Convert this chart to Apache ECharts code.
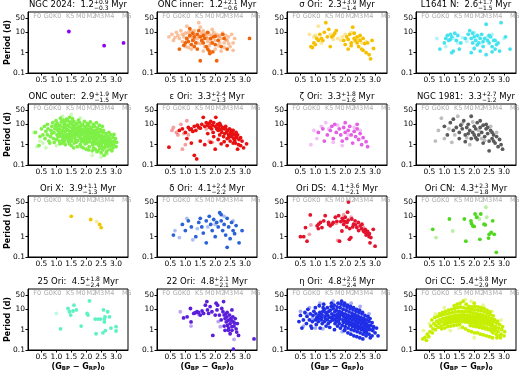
<!DOCTYPE html>
<html>
<head>
<meta charset="utf-8">
<script src="https://cdn.jsdelivr.net/npm/echarts@6/dist/echarts.min.js"></script>
<style>
html,body{margin:0;padding:0;background:#fff}
#chart{width:520px;height:374px}
</style>
</head>
<body>
<div id="chart"></div>
<script>
// panels in reading order
var regionNames = ['NGC 2024','ONC inner','σ Ori','L1641 N','ONC outer','ε Ori','ζ Ori','NGC 1981','Ori X','δ Ori','Ori DS','Ori CN','25 Ori','22 Ori','η Ori','Ori CC'];
var ages = ['1.2','1.2','2.3','2.6','2.9','3.3','3.3','3.3','3.9','4.1','4.1','4.3','4.5','4.8','4.8','5.4'];
var agePlus = ['+0.9','+2.1','+3.9','+1.7','+1.9','+2.4','+1.8','+2.7','+1.1','+2.4','+3.6','+2.3','+1.8','+2.1','+2.6','+5.8'];
var ageMinus = ['−0.3','−0.6','−1.4','−1.5','−1.5','−1.3','−1.6','−1.2','−1.3','−2.2','−2.1','−1.8','−2.4','−2.1','−2.4','−2.9'];
var regionColors = ['#8a00f0','#f0650a','#f5c000','#45e3f0','#7ef046','#e81010','#e45ee6','#5b5b5b',
                    '#f0c800','#2a62d8','#e3132e','#4fd81e','#5cf2c3','#5b1fdc','#1f2fe6','#c6ee00'];
var spTypes = ['F0','G0','K0','K5','M0','M2','M3','M4','M5'];
var spColors = [0.36,0.73,1.03,1.46,1.82,2.17,2.44,2.78,3.36];
var xTicks = [0.5,1,1.5,2,2.5,3];
var yTicks = [0.1,1,10,50];

// [colour (BP-RP)0, period d]
var ngc2024Main = [[1.42,11],[2.6,2.2],[3.25,3.0]];
var ngc2024Faint = [];

var oncInMain = [[0.95,2.3],[1.05,5],[1.1,3.5],[1.15,15],[1.2,2.5],[1.25,4],[1.3,6],[1.35,3],[1.4,8],[1.45,12],[1.5,6],[1.55,4],[1.6,7],[1.65,5],[1.7,2],[1.75,10],[1.8,1.2],[1.82,0.9],[1.85,5],[1.9,3],[1.95,6],[2.0,2.5],[2.05,0.4],[2.1,4],[2.2,2],[2.3,5],[2.4,1.5],[1.5,0.4],[0.8,1.5],[1.0,3],[1.3,2],[1.6,3],[1.75,1.5],[2.25,8],[3.15,5],[1.15,7],[1.4,1.5],[1.92,1.1],[2.0,6.5],[1.25,9]];
var oncInFaint = [[0.45,6],[0.55,8],[0.6,4],[0.7,10],[0.75,7],[0.8,5],[0.85,12],[0.9,8],[0.95,6],[1.0,9],[1.05,20],[1.1,10],[1.15,6],[1.2,11],[1.25,5],[1.3,12],[1.35,8],[1.4,5],[1.45,30],[1.5,18],[1.55,9],[1.6,12],[1.65,8],[1.7,6],[1.75,5],[1.8,8],[1.85,3],[1.9,7],[1.95,10],[2.0,4],[2.05,8],[2.1,6],[2.15,3],[2.2,5],[2.25,9],[2.3,3],[2.35,7],[2.4,4],[2.45,6],[2.5,2],[2.55,8],[2.6,3],[2.65,5],[1.0,2],[1.2,1.5],[1.4,3],[1.6,1.2],[1.8,2.2],[2.0,1.5],[2.2,1.2],[1.3,4.5],[1.5,2.8],[1.7,9],[0.9,3.5],[1.1,1.8],[1.55,6],[1.85,4.5],[2.1,2.2],[2.3,1.8],[1.65,2],[2.45,2.8],[2.6,1.3],[0.65,5.5],[1.9,14],[1.45,6.5],[1.25,7.5],[2.15,7],[2.35,4.5],[1.75,3.5],[1.05,4.2]];

var sigOriMain = [[0.85,2],[0.9,1.8],[0.95,3],[1.0,2.5],[1.05,5],[1.1,4],[1.15,8],[1.2,5],[1.3,10],[1.35,30],[1.4,6],[1.5,2],[1.55,6],[1.6,7],[1.65,9],[1.7,12],[1.95,4],[2.0,2.5],[2.05,6],[2.1,1.5],[2.15,8],[2.2,3],[2.25,18],[2.3,5],[2.35,4],[2.4,3],[2.45,2],[2.5,7],[2.55,1.5],[2.6,5],[2.65,2.8],[2.7,1],[2.75,3],[2.8,0.8],[2.85,0.5],[2.9,4],[2.95,1.6],[2.4,6],[2.3,9],[1.25,4],[1.45,14],[2.1,4.5],[2.2,2.2],[2.5,4],[2.6,1.3]];
var sigOriFaint = [[0.8,8],[0.95,6],[1.1,20],[1.2,3],[1.5,8],[1.75,5],[1.85,4],[2.0,8],[2.3,3.5],[2.45,5],[2.7,3.5],[1.6,4.5],[1.9,6],[2.2,10],[2.55,3],[1.0,7]];

var l1641Main = [[0.85,1.5],[1.0,3],[1.05,5],[1.1,7],[1.15,4],[1.2,8],[1.25,6],[1.3,1.2],[1.35,9],[1.4,4],[1.45,7],[1.5,1.5],[1.55,3],[1.8,8],[1.85,12],[1.9,5],[1.95,9],[2.0,6],[2.05,4],[2.1,7],[2.15,3],[2.2,5],[2.25,8],[2.3,2],[2.35,5],[2.4,25],[2.45,4],[2.5,3],[2.55,6],[2.6,2],[2.65,4],[2.7,1.5],[2.75,2.5],[2.8,3],[2.9,30],[3.05,6],[3.2,1.5],[1.9,1],[2.0,1.6],[2.2,1.2],[2.4,0.8],[2.6,1.1],[1.25,1],[2.3,3.5],[2.1,2.4],[1.7,5],[1.2,4.5],[2.5,7],[2.7,4],[1.95,3],[2.85,1.2]];
var l1641Faint = [[0.75,5],[1.05,2],[1.3,5],[1.6,5.5],[1.75,3.5],[2.0,10],[2.25,3],[2.45,6],[2.6,8],[3.0,5],[1.45,3],[2.15,6]];

var oncOutMain = [[0.3,4],[0.42,0.9],[0.45,2.5],[0.55,3],[0.5,6],[0.62,2],[0.65,4.5],[0.6,8],[0.7,3],[0.72,6],[0.75,1.5],[0.7,10],
  [0.8,2.5],[0.82,5],[0.85,8],[0.78,1.2],[0.85,3.5],[0.9,2],[0.92,4],[0.95,6],[0.88,12],[0.93,1.3],[0.97,9],
  [1.0,1.8],[1.02,3],[1.05,5],[1.0,7],[1.03,11],[1.06,2.4],[0.99,15],[1.1,1.5],[1.12,2.8],[1.15,4],[1.1,6],[1.13,8.5],[1.16,13],[1.08,3.5],[1.14,20],
  [1.2,1.2],[1.22,2.2],[1.25,3.2],[1.2,5],[1.23,7],[1.26,10],[1.18,4.2],[1.24,16],[1.21,1.7],
  [1.3,1],[1.32,2],[1.35,3],[1.3,4.5],[1.33,6],[1.36,9],[1.28,12],[1.34,18],[1.31,2.6],[1.37,5.2],
  [1.4,1.4],[1.42,2.4],[1.45,3.6],[1.4,5],[1.43,7.5],[1.46,11],[1.38,15],[1.44,22],[1.41,1.8],[1.47,4.2],
  [1.5,0.9],[1.52,2],[1.55,3],[1.5,4.5],[1.53,6.5],[1.56,9],[1.48,13],[1.54,19],[1.51,1.5],[1.57,5.5],[1.49,2.7],
  [1.6,1.2],[1.62,2.3],[1.65,3.4],[1.6,5],[1.63,7],[1.66,10],[1.58,14],[1.64,1.7],[1.61,4],[1.67,6],
  [1.7,0.8],[1.72,1.6],[1.75,2.6],[1.7,4],[1.73,5.5],[1.76,8],[1.68,11],[1.74,16],[1.71,3.2],[1.77,6.8],
  [1.8,1],[1.82,2],[1.85,3],[1.8,4.5],[1.83,6],[1.86,9],[1.78,12],[1.84,1.4],[1.81,3.7],[1.87,5.2],
  [1.9,0.7],[1.92,1.5],[1.95,2.4],[1.9,3.5],[1.93,5],[1.96,7],[1.88,10],[1.94,14],[1.91,2],[1.97,4.2],
  [2.0,0.6],[2.02,1.2],[2.05,2],[2.0,3],[2.03,4.2],[2.06,6],[1.98,8],[2.04,11],[2.01,1.6],[2.07,5],[1.99,2.5],
  [2.1,0.8],[2.12,1.4],[2.15,2.2],[2.1,3.2],[2.13,4.5],[2.16,6.5],[2.08,9],[2.14,13],[2.11,1.8],[2.17,3.8],
  [2.2,0.5],[2.22,1],[2.25,1.7],[2.2,2.6],[2.23,3.6],[2.26,5],[2.18,7],[2.24,10],[2.21,1.3],[2.27,4.2],[2.19,2.1],
  [2.3,0.6],[2.32,1.1],[2.35,1.8],[2.3,2.8],[2.33,4],[2.36,5.5],[2.28,8],[2.34,12],[2.31,1.4],[2.37,3.3],
  [2.4,0.5],[2.42,0.9],[2.45,1.5],[2.4,2.3],[2.43,3.2],[2.46,4.5],[2.38,6.5],[2.44,9],[2.41,1.2],[2.47,2.7],
  [2.5,0.4],[2.52,0.8],[2.55,1.3],[2.5,2],[2.53,2.8],[2.56,4],[2.48,5.5],[2.54,8],[2.51,1],[2.57,1.7],
  [2.6,0.3],[2.62,0.7],[2.65,1.1],[2.6,1.7],[2.63,2.5],[2.66,3.5],[2.58,5],[2.64,0.9],[2.61,1.4],
  [2.7,0.5],[2.72,0.8],[2.75,1.2],[2.7,1.8],[2.73,2.6],[2.76,4],[2.68,1],[2.8,0.6],[2.82,0.9],[2.85,1.4],[2.8,2],[2.83,3],[2.78,1.1],
  [2.9,0.7],[2.92,1],[2.95,1.5],[2.9,2.2],[2.93,3.2],[3.0,0.8],[3.02,1.3],[2.98,2],
  [1.05,9],[1.18,2.6],[1.28,7.5],[1.39,3],[1.52,11],[1.62,3],[1.69,6.2],[1.79,2.4],[1.89,4.6],[1.99,5.5],[2.09,2.6],[2.19,4.6],[2.29,2.2],[2.39,3.8],[2.49,1.5],[2.59,2.1],[2.69,1.4],[2.79,1.6],[2.89,1.2],
  [1.12,1.1],[1.27,1.5],[1.44,1.1],[1.58,0.7],[1.66,1.3],[1.83,0.8],[1.96,1.1],[2.08,0.55],[2.24,0.7],[2.36,0.45],[2.46,0.65],[2.56,0.55],[2.67,0.4],[2.86,0.5]];
var oncOutFaint = [[0.35,0.8],[0.25,4],[0.45,1.5],[0.55,1.2],[0.65,0.7],[1.0,0.9],[1.2,25],[1.5,30],[1.8,20],[2.2,0.3],[2.5,0.25],[2.7,0.35]];

var epsOriMain = [[0.45,0.75],[0.8,5],[0.9,6],[1.0,4],[1.05,2],[1.1,7],[1.15,5.5],[1.2,6],[1.25,4.5],[1.3,8],[1.35,5],[1.4,9],[1.45,7],[1.5,6.5],[1.55,10],[1.6,22],[1.65,8],[1.7,12],[1.75,9],[1.8,11],[1.82,7],[1.85,14],[1.88,6],[1.9,9],[1.93,4],[1.95,12],[2.0,8],[2.02,22],[2.05,6],[2.08,10],[2.1,5],[2.12,7],[2.15,3],[2.18,9],[2.2,5.5],[2.22,4],[2.25,7],[2.28,2.5],[2.3,6],[2.32,3.5],[2.35,8],[2.38,4],[2.4,2],[2.42,5],[2.45,3],[2.48,6],[2.5,1.5],[2.52,4],[2.55,2.5],[2.58,3.5],[2.6,5],[2.62,2],[2.65,3],[2.68,1.2],[2.7,4],[2.72,2.2],[2.75,3],[2.78,1],[2.8,1.8],[2.85,0.9],[2.9,1.5],[2.95,0.7],[3.05,1.1],[1.2,1.2],[1.3,0.3],[1.38,0.2],[1.5,1.5],[1.65,1],[1.85,1.3],[2.0,0.6],[2.2,1.1],[2.4,0.9],[2.5,3],[2.6,1.2],[2.75,0.6],[1.95,2.5],[2.1,1.8],[2.3,1.4],[2.45,2.2],[2.65,1.6],[1.75,3.5],[2.15,11],[2.35,6],[2.55,5],[2.7,2.8],[2.85,2.2]];
var epsOriFaint = [[0.55,5],[0.6,7],[0.7,4],[0.75,3],[0.85,10],[0.9,0.6],[0.95,3.5],[1.05,15],[1.1,3],[1.0,1],[1.8,1.5],[1.9,1.3],[1.7,6]];

var zetOriMain = [[1.1,4],[1.25,6],[1.4,3],[1.5,5],[1.55,8],[1.6,2],[1.65,10],[1.7,4],[1.8,6],[1.85,3],[1.9,1.5],[1.95,7],[2.0,4],[2.05,2],[2.1,5],[2.15,8],[2.2,3],[2.25,1.2],[2.3,4.5],[2.35,2.5],[2.4,6],[2.45,1.8],[2.5,3.5],[2.55,1],[2.6,2.2],[2.7,1.4],[2.75,0.8],[2.4,10],[2.0,12],[1.3,1.5]];
var zetOriFaint = [[0.85,1],[0.95,5],[1.05,2],[1.2,8],[1.35,12],[1.45,6],[1.75,9],[2.1,3],[2.3,7],[1.6,1.3],[2.5,5],[1.9,0.9]];

var ngc1981Main = [[1.0,8],[1.1,3],[1.2,12],[1.3,5],[1.4,7],[1.5,4],[1.55,9],[1.6,6],[1.65,15],[1.7,3],[1.75,7],[1.8,10],[1.85,5],[1.9,25],[1.95,4],[2.0,8],[2.05,6],[2.1,12],[2.15,3],[2.2,7],[2.25,4],[2.3,9],[2.35,2.5],[2.4,6],[2.45,3.5],[2.5,1.5],[2.55,5],[2.6,2],[2.65,3],[2.7,1.2],[2.75,2.5],[2.8,0.8],[2.85,1.8],[2.9,1],[2.95,0.6],[2.3,1.2],[2.1,1.8],[1.9,2],[1.7,1.4],[2.5,0.5],[2.0,3],[2.2,15],[2.4,10],[2.6,4],[1.5,2],[1.3,18],[1.8,3.5],[2.45,7],[2.65,1.5],[2.05,2.2]];
var ngc1981Faint = [[0.7,1.5],[0.8,5],[0.9,20],[1.0,2],[1.15,6],[1.25,1.3],[1.45,25],[1.6,11],[1.75,2.2],[1.95,13],[2.15,5],[2.35,1.6],[2.55,8],[2.75,4],[1.35,3],[1.85,1],[2.25,2]];

var oriXMain = [[1.5,10],[2.15,7],[2.45,4],[2.5,2.8]];
var oriXFaint = [[2.35,5.5]];

var delOriMain = [[0.6,1.2],[0.9,4],[1.0,2],[1.1,6],[1.2,3],[1.35,1],[1.45,5],[1.5,8],[1.55,3],[1.6,1.5],[1.7,6],[1.8,10],[1.85,4],[1.9,2],[1.95,7],[2.0,1],[2.05,5],[2.1,3],[2.15,15],[2.2,6],[2.25,2],[2.3,4],[2.35,1.2],[2.4,8],[2.45,3],[2.5,0.8],[2.55,5],[2.6,2],[2.65,1.4],[2.7,3.5],[2.8,0.5],[2.9,2],[1.7,0.5],[2.4,0.3],[2.2,12]];
var delOriFaint = [[0.65,2],[0.8,0.9],[1.05,8],[1.25,0.7],[1.4,2.5],[1.75,3],[2.0,4],[2.3,10],[2.6,6]];

var oriDSMain = [[0.5,1],[0.61,1],[0.67,2.8],[0.72,0.6],[0.83,11.7],[1.11,4.1],[1.17,5],[1.22,2.8],[1.06,3.4],[1.28,6],[1.33,10.8],[1.44,5],[1.5,3.4],[1.56,4.1],[1.67,9],[1.72,5.6],[1.78,10.8],[1.81,0.6],[1.89,1.9],[1.94,6],[2.0,9],[2.06,5],[2.08,16],[2.11,50],[2.14,0.74],[2.19,0.9],[2.22,7.4],[2.28,4.1],[2.33,6],[2.39,2.8],[2.44,5],[2.5,3.4],[2.56,4.1],[2.61,1.9],[2.67,2.3],[2.72,1.6],[2.76,1.3],[2.81,1.4],[2.86,0.9],[2.94,2.3],[3.0,0.34],[2.83,0.5],[1.95,4],[2.05,3],[2.1,6.5],[2.15,2.5],[2.25,3],[2.35,3.8],[2.45,2],[2.55,2.5],[2.65,1.7],[2.7,1.2],[2.75,1.8],[2.8,1],[1.85,5.5],[1.9,8],[2.0,5.5],[1.6,5],[1.45,4],[1.1,2.5]];
var oriDSFaint = [[0.85,3.8],[0.8,1.3],[1.75,0.65],[1.7,4.5],[1.95,12],[2.2,9],[2.6,3]];

var oriCNMain = [[0.61,2.3],[1.17,7.4],[1.67,7.4],[1.72,0.6],[1.89,6],[1.91,4.5],[1.95,3.4],[2.0,3.2],[2.03,13],[2.08,9],[2.22,13],[2.19,0.74],[2.33,4.1],[2.37,3.8],[2.5,1.3],[2.57,1.6],[2.67,1.3],[2.62,6],[2.48,0.85],[2.74,0.17]];
var oriCNFaint = [[0.72,0.9],[1.28,1.9],[2.11,9.5],[2.17,7.4],[2.39,28],[2.42,9]];

var ori25Main = [[1.14,1.1],[1.39,11],[1.44,7.6],[1.48,5.2],[1.56,8.3],[1.59,16],[1.67,9.3],[1.83,1.5],[2.03,6.3],[2.06,5.2],[2.11,26],[2.3,3.3],[2.33,0.63],[2.48,3.3],[2.56,0.7],[2.58,9.3],[2.61,3.3],[2.61,2.4],[2.63,4.3],[2.64,0.9],[2.72,7.6],[2.78,4.3],[2.83,1.2],[3.0,1.4],[3.0,0.86],[2.39,3.3]];
var ori25Faint = [[1.0,6.3]];

var ori22Main = [[0.94,3.8],[1.06,4.3],[1.19,2.4],[1.17,11],[1.28,6.3],[1.33,6.8],[1.39,7.6],[1.44,7],[1.5,5.2],[1.56,8.3],[1.61,6.3],[1.67,16],[1.72,24],[1.74,9.3],[1.78,6.3],[1.83,13.6],[1.89,7.6],[1.92,0.52],[2.0,5.2],[2.03,20],[2.08,16],[2.06,9.3],[2.14,5.2],[2.22,11],[2.26,7.6],[2.3,5.2],[2.33,3.5],[2.37,2.4],[2.39,4.3],[2.41,1.6],[2.44,2.9],[2.48,5.2],[2.5,2],[2.52,3.5],[2.56,1.4],[2.56,0.93],[2.59,4.3],[2.61,2.4],[2.63,1.5],[2.67,3.5],[2.7,1.1],[2.72,0.76],[2.74,2],[2.78,0.52],[2.61,0.11],[3.3,0.35],[2.5,0.63],[2.33,0.93],[2.44,0.93],[2.56,9.3],[2.28,24],[2.35,6],[2.45,1.2],[2.55,2.8],[2.65,2.1],[2.4,7],[2.3,1.5],[2.2,3]];
var ori22Faint = [[0.83,7.6],[1.19,1.5],[2.17,1.4],[2.63,0.33],[1.45,5.5],[2.1,2.5]];

var etaOriMain = [[0.45,2.5],[0.5,5],[0.55,1.2],[0.6,3],[0.65,7],[0.7,2],[0.72,4.5],[0.75,10],[0.8,3],[0.83,6],[0.85,1.5],[0.9,2.5],[0.92,5],[0.95,8],[0.88,1.2],
  [1.0,3],[1.02,6],[1.05,4],[1.0,12],[1.03,1.8],[1.1,2.5],[1.12,5],[1.15,7],[1.1,3.5],[1.13,15],[1.16,1.2],
  [1.2,3],[1.22,5.5],[1.25,8],[1.2,4],[1.23,2],[1.26,12],[1.3,2.5],[1.32,4.5],[1.35,7],[1.3,10],[1.33,3.5],[1.36,1.5],[1.28,18],
  [1.4,3],[1.42,5],[1.45,8],[1.4,12],[1.43,2],[1.46,4],[1.38,6],[1.5,2.5],[1.52,4],[1.55,6],[1.5,9],[1.53,14],[1.56,3],[1.48,1.3],[1.54,20],
  [1.6,3],[1.62,5],[1.65,7.5],[1.6,11],[1.63,16],[1.66,2],[1.58,4],[1.64,1],
  [1.7,2.5],[1.72,4],[1.75,6],[1.7,9],[1.73,13],[1.76,20],[1.68,3.3],[1.74,1.5],[1.71,5],
  [1.8,2],[1.82,3.5],[1.85,5.5],[1.8,8],[1.83,12],[1.86,18],[1.78,2.8],[1.84,1.2],[1.81,4.5],[1.87,7],
  [1.9,1.6],[1.92,3],[1.95,4.5],[1.9,6.5],[1.93,10],[1.96,15],[1.88,25],[1.94,2.3],[1.91,5.5],[1.97,0.9],
  [2.0,1.4],[2.02,2.5],[2.05,4],[2.0,6],[2.03,9],[2.06,13],[1.98,20],[2.04,2],[2.01,3.3],[2.07,5],[1.99,1],
  [2.1,1.2],[2.12,2.2],[2.15,3.5],[2.1,5],[2.13,7.5],[2.16,11],[2.08,16],[2.14,1.7],[2.11,2.8],[2.17,4.3],[2.09,0.7],
  [2.2,1],[2.22,1.8],[2.25,3],[2.2,4.5],[2.23,6.5],[2.26,9.5],[2.18,14],[2.24,1.4],[2.21,2.4],[2.27,3.8],[2.19,0.6],[2.25,5.5],
  [2.3,0.9],[2.32,1.6],[2.35,2.6],[2.3,3.8],[2.33,5.5],[2.36,8],[2.28,12],[2.34,1.2],[2.31,2],[2.37,3.2],[2.29,0.5],[2.35,4.6],
  [2.4,0.8],[2.42,1.4],[2.45,2.2],[2.4,3.3],[2.43,4.8],[2.46,7],[2.38,10],[2.44,1.1],[2.41,1.8],[2.47,2.8],[2.39,0.45],[2.45,4],
  [2.5,0.7],[2.52,1.2],[2.55,1.9],[2.5,2.8],[2.53,4],[2.56,6],[2.48,9],[2.54,1],[2.51,1.5],[2.57,2.4],[2.49,0.4],[2.55,3.4],
  [2.6,0.6],[2.62,1],[2.65,1.6],[2.6,2.4],[2.63,3.5],[2.66,5],[2.58,7],[2.64,0.8],[2.61,1.3],[2.67,2],[2.59,0.35],[2.65,2.9],
  [2.7,0.5],[2.72,0.9],[2.75,1.4],[2.7,2.1],[2.73,3],[2.76,4.5],[2.68,1.1],[2.74,1.7],[2.71,0.7],
  [2.8,0.6],[2.82,1],[2.85,1.6],[2.8,2.5],[2.83,3.5],[2.78,1.3],[2.84,0.4],[2.9,0.5],[2.92,0.9],[2.95,1.4],[2.9,2.2],[2.93,1.1],[3.0,0.7],[3.05,1.2],[3.1,0.5]];
var etaOriFaint = [[0.5,8],[0.6,1.5],[0.7,6],[0.8,12],[0.9,3.5],[1.0,1.2],[1.15,20],[1.35,5],[1.6,25],[1.9,0.8],[2.2,20],[2.5,14],[2.8,6],[1.25,1.1]];

var oriCCMain = [[0.28,0.35],[0.35,0.42],[0.4,0.3],[0.43,0.6],[0.48,0.45],[0.52,0.8],[0.55,1.5],[0.6,0.7],[0.62,1.1],[0.65,2],[0.58,3],[0.7,1],[0.72,1.6],[0.75,2.6],[0.68,4],
  [0.8,1.3],[0.82,2],[0.85,3],[0.78,4.5],[0.84,6],[0.9,1.5],[0.92,2.4],[0.95,3.5],[0.88,5],[0.94,7],[0.91,1.1],
  [1.0,1.8],[1.02,2.7],[1.05,3.8],[0.98,5.5],[1.04,8],[1.01,1.2],[1.06,2.2],[1.1,2],[1.12,3],[1.15,4.2],[1.08,6],[1.14,9],[1.11,1.4],[1.16,2.5],[1.09,3.5],
  [1.2,2.2],[1.22,3.2],[1.25,4.5],[1.18,6.5],[1.24,10],[1.21,1.5],[1.26,2.8],[1.19,3.8],
  [1.3,2.4],[1.32,3.5],[1.35,5],[1.28,7],[1.34,11],[1.31,1.6],[1.36,3],[1.29,4],[1.33,15],
  [1.4,2.5],[1.42,3.6],[1.45,5.2],[1.38,7.5],[1.44,12],[1.41,1.7],[1.46,3.2],[1.39,4.3],[1.43,18],
  [1.5,2.6],[1.52,3.8],[1.55,5.5],[1.48,8],[1.54,13],[1.51,1.8],[1.56,3.3],[1.49,4.5],[1.53,20],
  [1.6,2.5],[1.62,3.8],[1.65,5.5],[1.58,8],[1.64,12],[1.61,1.3],[1.66,3.2],[1.59,4.6],[1.63,25],
  [1.7,2.4],[1.72,3.6],[1.75,5.2],[1.68,7.8],[1.74,11],[1.71,1.1],[1.76,3],[1.69,4.3],[1.73,18],
  [1.8,2.3],[1.82,3.4],[1.85,5],[1.78,7.5],[1.84,10],[1.81,0.9],[1.86,2.8],[1.79,4.1],[1.83,14],[1.87,1.6],
  [1.9,2.2],[1.92,3.3],[1.95,4.8],[1.88,7],[1.94,10],[1.91,0.8],[1.96,2.7],[1.89,4],[1.93,13],[1.97,1.5],
  [2.0,2],[2.02,3.1],[2.05,4.5],[1.98,6.6],[2.04,9.5],[2.01,0.7],[2.06,2.5],[1.99,3.7],[2.03,14],[2.07,1.4],[2.0,20],
  [2.1,1.9],[2.12,2.9],[2.15,4.2],[2.08,6.2],[2.14,9],[2.11,0.7],[2.16,2.4],[2.09,3.5],[2.13,13],[2.17,1.3],[2.1,5.2],
  [2.2,1.7],[2.22,2.7],[2.25,3.9],[2.18,5.8],[2.24,8.5],[2.21,0.6],[2.26,2.2],[2.19,3.3],[2.23,12],[2.27,1.2],[2.2,4.8],
  [2.3,1.5],[2.32,2.5],[2.35,3.6],[2.28,5.3],[2.34,7.5],[2.31,0.55],[2.36,2],[2.29,3],[2.33,11],[2.37,1.1],[2.3,4.3],
  [2.4,1.3],[2.42,2.2],[2.45,3.2],[2.38,4.8],[2.44,6.5],[2.41,0.5],[2.46,1.8],[2.39,2.7],[2.43,9],[2.47,1],[2.4,3.8],
  [2.5,1.1],[2.52,1.9],[2.55,2.8],[2.48,4.2],[2.54,5.5],[2.51,0.45],[2.56,1.5],[2.49,2.4],[2.53,7.5],[2.57,0.85],
  [2.6,1],[2.62,1.6],[2.65,2.4],[2.58,3.6],[2.64,4.8],[2.61,0.4],[2.66,1.3],[2.59,2],[2.63,0.7],
  [2.7,0.9],[2.72,1.4],[2.75,2.1],[2.68,3.1],[2.74,0.6],[2.71,1.15],[2.76,0.4],[2.8,0.8],[2.82,1.2],[2.85,1.8],[2.78,2.6],[2.84,0.5],
  [2.9,0.6],[2.92,1],[2.95,1.4],[2.88,0.4],[3.0,0.5],[3.02,0.8]];
var oriCCFaint = [[0.3,0.9],[0.5,2],[0.7,6],[1.0,12],[1.2,0.9],[1.5,1.2],[1.7,30],[2.0,0.4],[2.3,16],[2.6,8],[2.9,3],[1.9,25]];

var mainSets = [ngc2024Main,oncInMain,sigOriMain,l1641Main,oncOutMain,epsOriMain,zetOriMain,ngc1981Main,
                oriXMain,delOriMain,oriDSMain,oriCNMain,ori25Main,ori22Main,etaOriMain,oriCCMain];
var faintSets = [ngc2024Faint,oncInFaint,sigOriFaint,l1641Faint,oncOutFaint,epsOriFaint,zetOriFaint,ngc1981Faint,
                 oriXFaint,delOriFaint,oriDSFaint,oriCNFaint,ori25Faint,ori22Faint,etaOriFaint,oriCCFaint];

var FONT = '"DejaVu Sans", sans-serif';
var colLeft = [28,157,287,416];
var rowTop = [12,104,196,289];
var plotW = 100, plotH = 61;

var cv = document.createElement('canvas').getContext('2d');
function textW(t, size, weight) {
    cv.font = (weight || 'normal') + ' ' + size + 'px "DejaVu Sans"';
    return cv.measureText(t).width;
}
// groups laid out left to right; texts inside one group share x (stacked sup/sub)
function textRow(groups, cx, cy, weight) {
    var widths = groups.map(function (g) {
        return Math.max.apply(null, g.map(function (p) { return textW(p[0], p[1], weight); }));
    });
    var total = widths.reduce(function (a, b) { return a + b; }, 0);
    var x = cx - total / 2, els = [];
    groups.forEach(function (g, k) {
        g.forEach(function (p) {
            els.push({type:'text', x:x, y:cy + p[2], silent:true,
                style:{text:p[0], fontSize:p[1], fontFamily:FONT, fontWeight:weight || 'normal', fill:'#000',
                       textAlign:'left', align:'left', textVerticalAlign:'middle', verticalAlign:'middle'}});
        });
        x += widths[k];
    });
    return els;
}

var grids = [], xAxes = [], yAxes = [], series = [], graphics = [];
for (var i = 0; i < 16; i++) {
    var r = Math.floor(i / 4), c = i % 4;
    grids.push({left:colLeft[c], top:rowTop[r], width:plotW, height:plotH, show:true,
                borderColor:'#000', borderWidth:1, backgroundColor:'rgba(0,0,0,0)'});
    xAxes.push({type:'value', gridIndex:i, min:0.05, max:3.4,
        axisLine:{show:true, onZero:false, lineStyle:{color:'#000', width:1}},
        axisTick:{show:true, length:2.5, customValues:xTicks, lineStyle:{color:'#000'}},
        axisLabel:{show:true, customValues:xTicks, margin:3, fontSize:7.5, color:'#000', fontFamily:FONT,
                   formatter:function (v) { return v.toFixed(1); }},
        splitLine:{show:false}});
    yAxes.push({type:'log', logBase:10, gridIndex:i, min:0.1, max:100,
        axisLine:{show:true, onZero:false, lineStyle:{color:'#000', width:1}},
        axisTick:{show:true, length:2.5, customValues:yTicks, lineStyle:{color:'#000'}},
        axisLabel:{show:true, customValues:yTicks, margin:3, fontSize:7.5, color:'#000', fontFamily:FONT,
                   formatter:function (v) { return String(+v.toPrecision(3)); }},
        minorTick:{show:false}, splitLine:{show:false}});
    series.push({type:'scatter', xAxisIndex:i, yAxisIndex:i, data:faintSets[i], symbolSize:3.8,
                 itemStyle:{color:regionColors[i], opacity:0.4}, silent:true, animation:false});
    series.push({type:'scatter', xAxisIndex:i, yAxisIndex:i, data:mainSets[i], symbolSize:3.8,
                 itemStyle:{color:regionColors[i], opacity:1}, silent:true, animation:false});
    series.push({type:'scatter', xAxisIndex:i, yAxisIndex:i, symbolSize:0, silent:true, animation:false, clip:false,
                 data:spColors.map(function (v, k) { return {name:spTypes[k], value:[v, 64]}; }),
                 label:{show:true, position:'inside', formatter:'{b}', color:'#999', fontSize:6.5, fontFamily:FONT}});
    var cx = colLeft[c] + plotW / 2;
    graphics = graphics.concat(textRow([
        [[regionNames[i] + ':  ' + ages[i], 8.5, 0]],
        [[agePlus[i], 6, -3], [ageMinus[i], 6, 3]],
        [[' Myr', 8.5, 0]]
    ], cx, rowTop[r] - 7));
    if (c === 0) {
        graphics.push({type:'text', x:8, y:rowTop[r] + plotH / 2, rotation:Math.PI / 2, silent:true,
            style:{text:'Period (d)', fontSize:8, fontWeight:'bold', fontFamily:FONT, fill:'#000',
                   textAlign:'center', align:'center', textVerticalAlign:'middle', verticalAlign:'middle'}});
    }
    if (r === 3) {
        graphics = graphics.concat(textRow([
            [['(G', 8, 0]], [['BP', 5.5, 2]], [[' − G', 8, 0]], [['RP', 5.5, 2]], [[')', 8, 0]], [['0', 5.5, 2]]
        ], cx, 367, 'bold'));
    }
}

var chart = echarts.init(document.getElementById('chart'));
chart.setOption({
    animation:false,
    grid:grids, xAxis:xAxes, yAxis:yAxes, series:series,
    graphic:{elements:graphics}
});
</script>
</body>
</html>
